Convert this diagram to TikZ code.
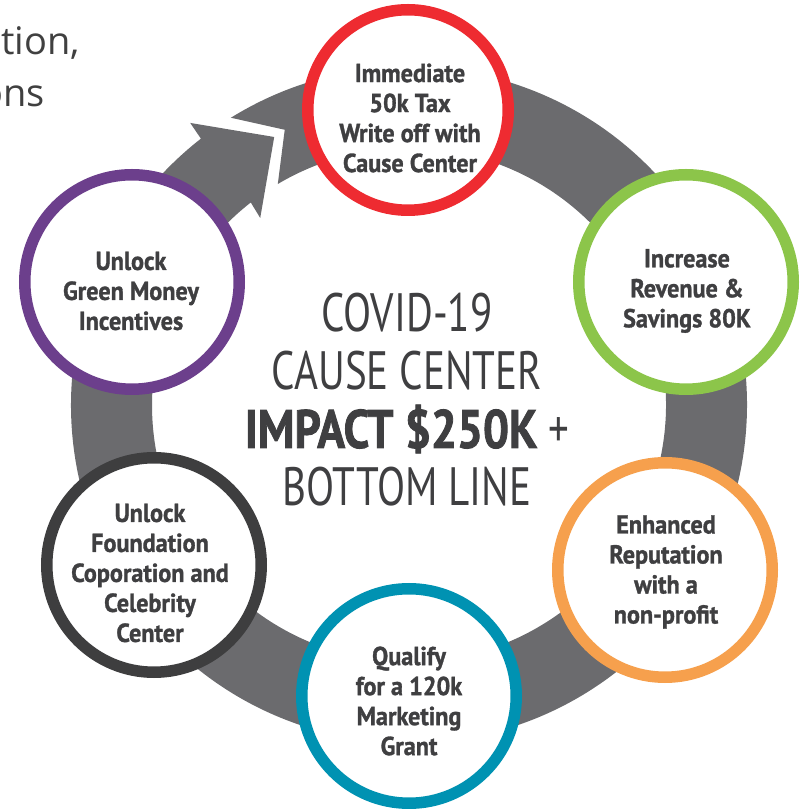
\documentclass[tikz,border=0pt]{standalone}
\usepackage{fontspec}
\setmainfont{PT Sans}
\newfontfamily\condbold[FakeStretch=0.93, FakeBold=1.2]{PT Sans Bold}
\newfontfamily\centerbold[FakeStretch=0.85, FakeBold=1.5]{PT Sans Bold}
\newfontfamily\condreg[FakeStretch=0.76]{PT Sans}
\newfontfamily\bodyfont{Open Sans}
\usetikzlibrary{calc}
\definecolor{ringgray}{HTML}{6B6B6E}
\definecolor{txtgray}{HTML}{3F3F41}
\definecolor{cred}{HTML}{EE2B31}
\definecolor{cgreen}{HTML}{8CC54A}
\definecolor{corange}{HTML}{F6A04D}
\definecolor{cteal}{HTML}{0092B2}
\definecolor{cdark}{HTML}{3E3E3F}
\definecolor{cpurple}{HTML}{6C3F8C}
\definecolor{bodygray}{HTML}{404040}
\tikzset{
  stage/.style={circle, fill=white, line width=11.5pt, inner sep=0pt, minimum size=214.5pt},
  stagetext/.style={align=center, text=txtgray, font=\condbold\fontsize{26}{30}\selectfont, inner sep=0pt},
  centertext/.style={align=center, text=txtgray, inner sep=0pt},
  bodytext/.style={text=bodygray, font=\bodyfont\fontsize{38}{52}\selectfont, inner sep=0pt}
}
\begin{document}
\begin{tikzpicture}[x=1pt,y=1pt]
\useasboundingbox (0,0) rectangle (805,809);
\clip (0,0) rectangle (805,809);
\coordinate (O) at (409,404);
% partial body text
\node[bodytext, anchor=base east] (t1) at (80,754) {tion,};
\node[bodytext, anchor=base east] (t2) at (45,702) {ons};
% ring with arrow
\fill[ringgray]
  ($(O)+(121.8:338)$) -- ($(O)+(114.3:302)$) -- ($(O)+(120.7:257)$)
  arc[start angle=120.7, end angle=-232, radius=257]
  -- ($(O)+(128.5:239)$) -- ($(O)+(116.7:300)$) -- ($(O)+(127.8:357)$)
  -- ($(O)+(128:338)$)
  arc[start angle=-232, end angle=121.8, radius=338]
  -- cycle;
% circles
\node[stage, draw=cred, minimum size=200.5pt] (red) at (408,699) {};
\node[stage, draw=cgreen] (green) at (686,527) {};
\node[stage, draw=corange] (orange) at (665,239) {};
\node[stage, draw=cteal] (teal) at (409,113) {};
\node[stage, draw=cdark] (dark) at (154,244) {};
\node[stage, draw=cpurple] (purple) at (132,527) {};
% texts
\node[stagetext] (redT) at (410,691) {Immediate\\50k Tax\\Write off with\\Cause Center};
\node[stagetext] (greenT) at (687,518) {Increase\\Revenue \&\\Savings 80K};
\node[stagetext] (orangeT) at (666,237) {Enhanced\\Reputation\\with a\\non-profit};
\node[stagetext] (tealT) at (409,108) {Qualify\\for a 120k\\Marketing\\Grant};
\node[stagetext] (darkT) at (150,236) {Unlock\\Foundation\\Coporation and\\Celebrity\\Center};
\node[stagetext] (purpleT) at (131,518) {Unlock\\Green Money\\Incentives};
\node[centertext, font=\condreg\fontsize{54}{58}\selectfont] (center) at (407,409)
  {COVID-19\\CAUSE CENTER\\{\centerbold IMPACT \$250K} +\\BOTTOM LINE};
\end{tikzpicture}
\end{document}
